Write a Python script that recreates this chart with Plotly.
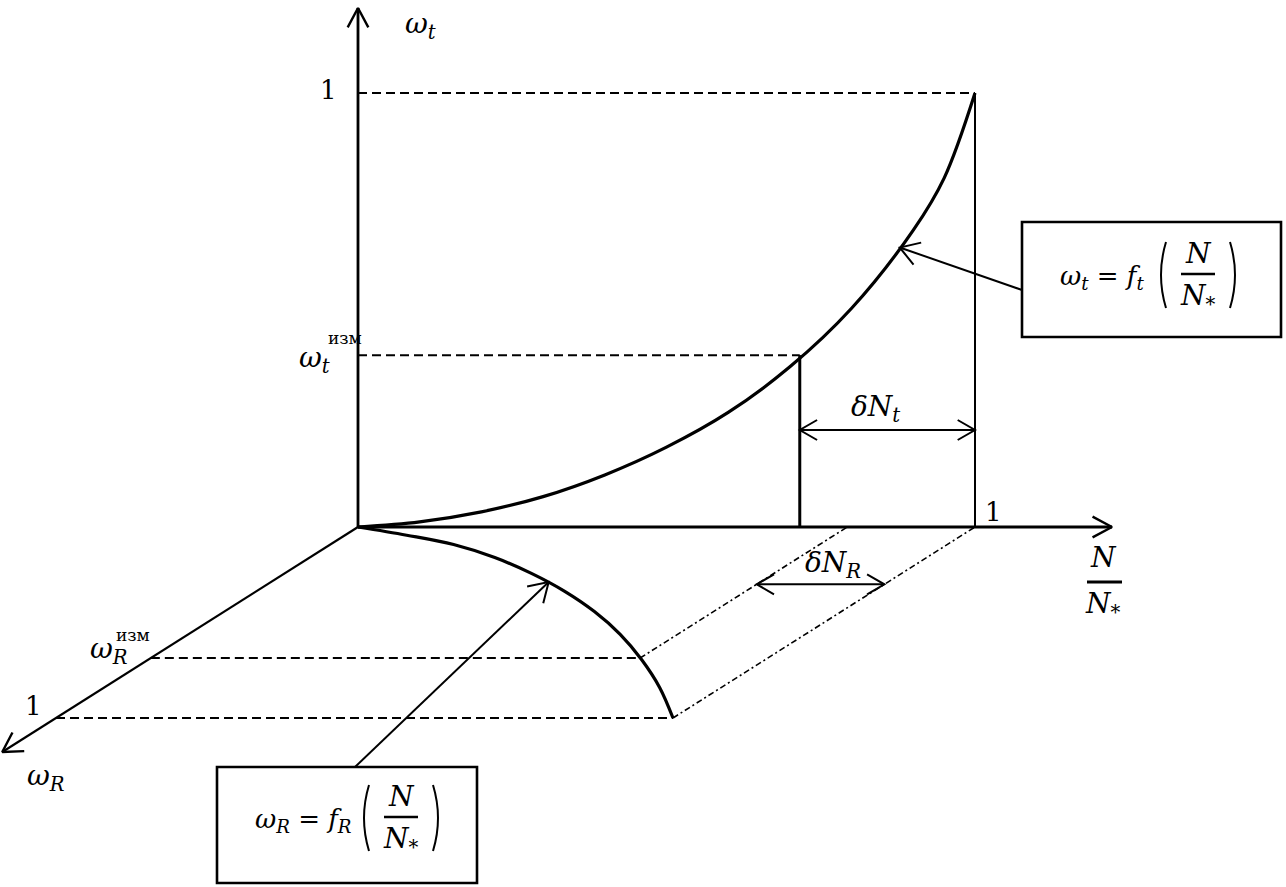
import math
import plotly.graph_objects as go

# ---------------- data (diagram units) ----------------
# page projection of the three axes
ORIGIN = (358, 527)          # page position of the common origin
N_UNIT = 617                 # N/N* = 1 along the horizontal axis
WT_UNIT = 434                # omega_t = 1 along the vertical axis
WR_VEC = (-302, 191)         # omega_R = 1 along the oblique axis

# axis extents (beyond the unit value)
N_AXIS_END = 1.222
WT_AXIS_END = 1.196
WR_AXIS_END = 1.178

# omega_t = f_t(N/N*)
nt = [0.0, 0.1, 0.2, 0.3, 0.4, 0.5, 0.6, 0.7, 0.8, 0.9, 0.95, 1.0]
wt = [0.0, 0.012, 0.035, 0.07, 0.12, 0.184, 0.264, 0.369, 0.504, 0.684, 0.804, 1.0]

# omega_R = f_R(N/N*)
nr = [0.0, 0.1, 0.2, 0.3, 0.4, 0.5, 0.6, 0.7, 0.8, 0.9, 1.0]
wr = [0.0, 0.043, 0.092, 0.16, 0.243, 0.337, 0.443, 0.562, 0.695, 0.84, 1.0]

# measured points
NT_MEAS, WT_MEAS = 0.716, 0.396
NR_MEAS, WR_MEAS = 0.793, 0.686
DNT_LEVEL = 0.2235   # omega_t height of the dN_t dimension arrow
DNR_LEVEL = 0.30     # omega_R depth of the dN_R dimension arrow
CALLOUT_T = (0.878, 0.644)   # (N/N*, omega_t) pointed at by the f_t box
CALLOUT_R = (0.45, 0.288)    # (N/N*, omega_R) pointed at by the f_R box

FONT = "DejaVu Serif"


def P(n=0.0, w=0.0, r=0.0):
    return (ORIGIN[0] + n * N_UNIT + r * WR_VEC[0],
            ORIGIN[1] - w * WT_UNIT + r * WR_VEC[1])


fig = go.Figure()


def line(pts, width=2.0, dash="solid", shape="linear"):
    fig.add_trace(go.Scatter(
        x=[p[0] for p in pts], y=[p[1] for p in pts],
        mode="lines", line=dict(color="black", width=width, dash=dash, shape=shape, smoothing=1.0),
        hoverinfo="skip", showlegend=False))


def head(tip, frm, length=20, half_angle=30, width=2.0):
    dx, dy = tip[0] - frm[0], tip[1] - frm[1]
    L = math.hypot(dx, dy)
    vx, vy = -dx / L, -dy / L
    pts = []
    for s in (1, -1):
        a = math.radians(half_angle) * s
        bx = vx * math.cos(a) - vy * math.sin(a)
        by = vx * math.sin(a) + vy * math.cos(a)
        pts.append((tip[0] + bx * length, tip[1] + by * length))
    line([pts[0], tip, pts[1]], width=width)


def text(x, y, s, size=26, xanchor="center", yanchor="middle", italic=True):
    fig.add_annotation(x=x, y=y, text=(f"<i>{s}</i>" if italic else s), showarrow=False,
                       xanchor=xanchor, yanchor=yanchor,
                       font=dict(family=FONT, size=size, color="black"))


def paren(x, cy, half_h, bulge, width=2.0):
    # bulge < 0: "(" ; bulge > 0: ")"
    fig.add_shape(type="path",
                  path=f"M {x},{cy - half_h} Q {x + 2 * bulge},{cy} {x},{cy + half_h}",
                  line=dict(color="black", width=width))


# ---------------- axes ----------------
O = P()
top = P(w=WT_AXIS_END)
right = P(n=N_AXIS_END)
obl = P(r=WR_AXIS_END)
line([O, top], width=2.8)
head(top, O, length=22, half_angle=28, width=2.4)
line([O, right], width=2.8)
head(right, O, length=22, half_angle=28, width=2.4)
line([O, obl], width=2.2)
head(obl, O, length=22, half_angle=30, width=2.4)

# ---------------- omega_t curve & construction ----------------
line([P(n=a, w=b) for a, b in zip(nt, wt)], width=3.2, shape="spline")
line([P(w=1), P(n=1, w=1)], width=2, dash="9px,5px")
line([P(n=1, w=1), P(n=1)], width=2)
line([P(w=WT_MEAS), P(n=NT_MEAS, w=WT_MEAS)], width=2, dash="9px,5px")
line([P(n=NT_MEAS, w=WT_MEAS), P(n=NT_MEAS)], width=3)

a1, a2 = P(n=NT_MEAS, w=DNT_LEVEL), P(n=1, w=DNT_LEVEL)
line([a1, a2], width=2)
head(a1, a2, length=20, half_angle=30)
head(a2, a1, length=20, half_angle=30)

# ---------------- omega_R curve & construction ----------------
line([P(n=a, r=b) for a, b in zip(nr, wr)], width=3.2, shape="spline")
line([P(r=1), P(n=1, r=1)], width=2, dash="9px,5px")
line([P(r=WR_MEAS), P(n=NR_MEAS, r=WR_MEAS)], width=2, dash="9px,5px")
line([P(n=1, r=1), P(n=1)], width=1.6, dash="6px,3px,2px,3px")
line([P(n=NR_MEAS, r=WR_MEAS), P(n=NR_MEAS)], width=1.6, dash="6px,3px,2px,3px")

b1, b2 = P(n=NR_MEAS, r=DNR_LEVEL), P(n=1, r=DNR_LEVEL)
line([b1, b2], width=2)
head(b1, b2, length=20, half_angle=30)
head(b2, b1, length=20, half_angle=30)

# ---------------- labels ----------------
text(top[0] + 62, 25, "ω<sub>t</sub>", size=28)
text(P(w=1)[0] - 30, P(w=1)[1] - 3, "1", size=26, italic=False)
text(P(w=WT_MEAS)[0] - 44, P(w=WT_MEAS)[1] + 4, "ω<sub>t</sub>", size=28)
text(P(w=WT_MEAS)[0] - 13, P(w=WT_MEAS)[1] - 17, "изм", size=17, italic=False)
text(P(n=1)[0] + 18, P(n=1)[1] - 15, "1", size=26, italic=False)
text((a1[0] + a2[0]) / 2 - 12, a1[1] - 22, "δN<sub>t</sub>", size=28)
text((b1[0] + b2[0]) / 2 + 12, b1[1] - 20, "δN<sub>R</sub>", size=28)

# N/N* on the horizontal axis
text(1103, 557, "N", size=28)
line([(1087, 582), (1122, 582)], width=3)
text(1103, 605, "N<sub>*</sub>", size=28)

r1 = P(r=1)
text(r1[0] - 23, r1[1] - 12, "1", size=26, italic=False)
rm = P(r=WR_MEAS)
text(rm[0] - 42, rm[1] - 8, "ω<sub>R</sub>", size=28)
text(rm[0] - 18, rm[1] - 23, "изм", size=17, italic=False)
text(obl[0] + 44, obl[1] + 25, "ω<sub>R</sub>", size=28)

# ---------------- formula boxes ----------------
def box(x0, y0, x1, y1):
    fig.add_shape(type="rect", x0=x0, y0=y0, x1=x1, y1=y1,
                  line=dict(color="black", width=2.6), fillcolor="rgba(0,0,0,0)")


def formula(x_left, cy, sub, gap):
    text(x_left, cy, f"ω<sub>{sub}</sub> = <i>f</i><sub>{sub}</sub>", size=26, xanchor="left")
    xp = x_left + gap
    paren(xp, cy - 2, 33, -5)
    paren(xp + 64, cy - 2, 33, 5)
    text(xp + 32, cy - 24, "N", size=28)
    line([(xp + 15, cy - 3), (xp + 49, cy - 3)], width=2.6)
    text(xp + 32, cy + 20, "N<sub>*</sub>", size=28)


box(1022, 222, 1281, 337)
formula(1058, 277, "t", 108)
box(217, 767, 477, 883)
formula(253, 820, "R", 116)

# callout arrows
t_tip = P(n=CALLOUT_T[0], w=CALLOUT_T[1])
t_from = (1022, 290)
line([t_from, t_tip], width=2)
head(t_tip, t_from, length=22, half_angle=32)

r_tip = P(n=CALLOUT_R[0], r=CALLOUT_R[1])
r_from = (355, 767)
line([r_from, r_tip], width=2)
head(r_tip, r_from, length=22, half_angle=32)

fig.update_layout(
    width=1286, height=887,
    margin=dict(l=0, r=0, t=0, b=0),
    paper_bgcolor="white", plot_bgcolor="white",
    font=dict(family=FONT),
    xaxis=dict(range=[0, 1286], visible=False, fixedrange=True),
    yaxis=dict(range=[887, 0], visible=False, fixedrange=True),
    showlegend=False,
)

fig.write_html("out.html", config={"displayModeBar": False},
               post_script="document.body.style.margin='0';document.body.style.overflow='hidden';")
